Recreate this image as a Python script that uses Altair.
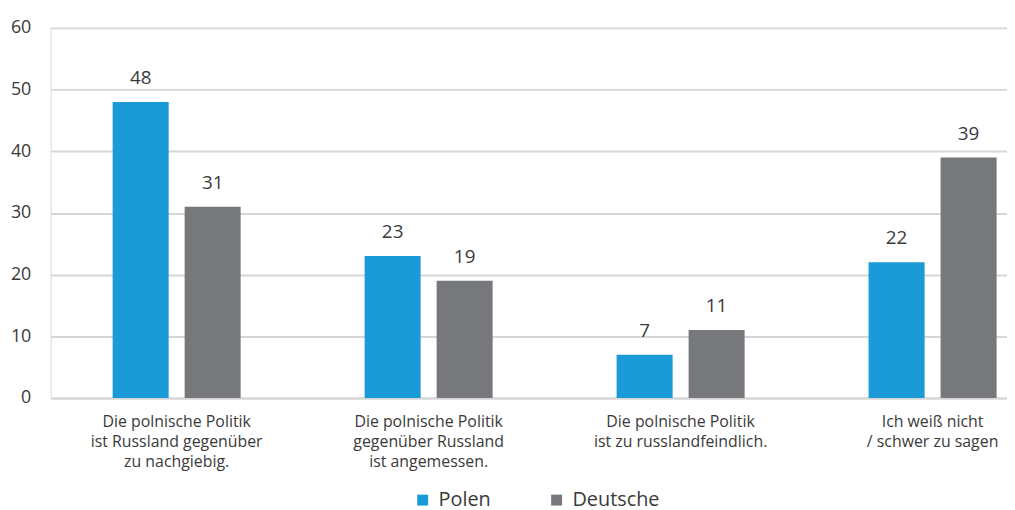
import altair as alt
import pandas as pd

categories = [
    "Die polnische Politik\nist Russland gegenüber\nzu nachgiebig.",
    "Die polnische Politik\ngegenüber Russland\nist angemessen.",
    "Die polnische Politik\nist zu russlandfeindlich.",
    "Ich weiß nicht\n/ schwer zu sagen",
]
series = ["Polen", "Deutsche"]
polen = [48, 23, 7, 22]
deutsche = [31, 19, 11, 39]
colors = ["#1a9ad6", "#76787b"]
y_ticks = [0, 10, 20, 30, 40, 50, 60]

rows = []
for i, c in enumerate(categories):
    rows.append({"cat": c, "series": "Polen", "value": polen[i]})
    rows.append({"cat": c, "series": "Deutsche", "value": deutsche[i]})
df = pd.DataFrame(rows)

FONT = "Open Sans"
TEXT = "#3a3a3a"

x = alt.X(
    "cat:N",
    sort=categories,
    scale=alt.Scale(range=[0, 1016], paddingInner=0.492, paddingOuter=0.246),
    axis=alt.Axis(
        title=None,
        labelAngle=0,
        labelExpr="split(datum.label, '\\n')",
        labelFont=FONT,
        labelFontSize=16,
        labelColor=TEXT,
        labelPadding=16,
        labelLineHeight=20,
        labelBaseline="top",
        ticks=False,
        domainColor="#d6d6d6",
        domainWidth=2,
        labelLimit=300,
    ),
)
xo = alt.XOffset(
    "series:N",
    sort=series,
    scale=alt.Scale(paddingInner=0.222, paddingOuter=0),
)
y = alt.Y(
    "value:Q",
    scale=alt.Scale(domain=[0, 60], nice=False),
    axis=alt.Axis(
        title=None,
        values=y_ticks,
        labelFont=FONT,
        labelFontSize=18,
        labelColor=TEXT,
        labelPadding=20,
        ticks=False,
        domain=False,
        gridColor="#d6d6d6",
        gridWidth=2,
    ),
)
color = alt.Color(
    "series:N",
    sort=series,
    scale=alt.Scale(domain=series, range=colors),
    legend=alt.Legend(
        title=None,
        orient="none",
        direction="horizontal",
        legendX=365,
        legendY=466,
        symbolType="square",
        symbolSize=121,
        symbolStrokeWidth=0,
        labelFont=FONT,
        labelFontSize=20,
        labelColor=TEXT,
        labelOffset=6,
        columnPadding=56,
    ),
)

bars = alt.Chart(df).mark_bar().encode(x=x, xOffset=xo, y=y, color=color)
labels = alt.Chart(df).mark_text(
    baseline="bottom", dy=-14, font=FONT, fontSize=19, color=TEXT
).encode(x=x, xOffset=xo, y=y, text="value:Q")

chart = (
    alt.layer(bars, labels)
    .properties(
        width=964,
        height=373,
        autosize=alt.AutoSizeParams(type="none"),
        padding={"left": 43, "top": 18, "right": 0, "bottom": 118},
    )
    .configure_view(stroke=None)
    .configure(background="white")
)

chart.save("out.html", embed_options={"renderer": "svg", "actions": False})
